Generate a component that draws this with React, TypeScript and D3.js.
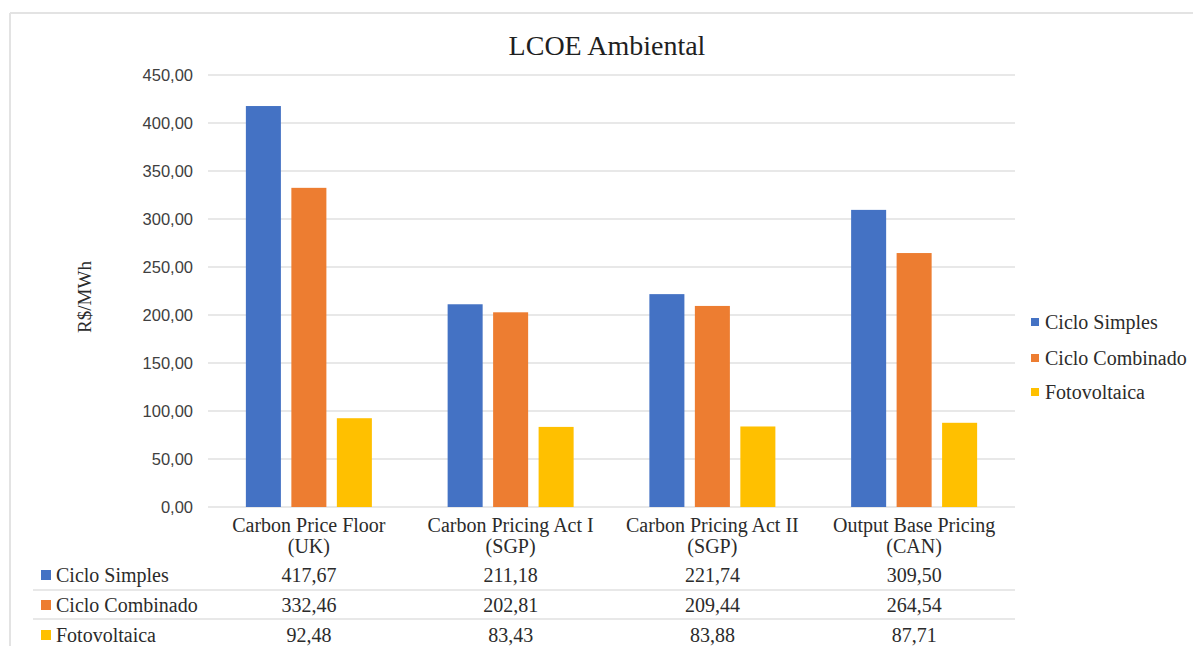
import React from "react";
import * as d3 from "d3";

const categories: string[][] = [
  ["Carbon Price Floor", "(UK)"],
  ["Carbon Pricing Act I", "(SGP)"],
  ["Carbon Pricing Act II", "(SGP)"],
  ["Output Base Pricing", "(CAN)"],
];
const seriesNames = ["Ciclo Simples", "Ciclo Combinado", "Fotovoltaica"];
const cicloSimples = [417.67, 211.18, 221.74, 309.5];
const cicloCombinado = [332.46, 202.81, 209.44, 264.54];
const fotovoltaica = [92.48, 83.43, 83.88, 87.71];
const seriesValues = [cicloSimples, cicloCombinado, fotovoltaica];
const seriesColors = ["#4472C4", "#ED7D31", "#FFC000"];
const yTicks = [0, 50, 100, 150, 200, 250, 300, 350, 400, 450];

const W = 1193;
const H = 646;
const SERIF = "'Liberation Serif', 'Times New Roman', serif";
const SANS = "'Liberation Sans', Arial, sans-serif";

const fmt = (v: number) => v.toFixed(2).replace(".", ",");

export default function App() {
  const plotLeft = 208;
  const plotRight = 1015;
  const y = d3.scaleLinear().domain([0, 450]).range([507, 75]);
  const x0 = d3
    .scaleBand<number>()
    .domain(categories.map((_, i) => i))
    .range([plotLeft, plotRight])
    .padding(0);
  const bw = x0.bandwidth();
  const groupW = 126;
  const x1 = d3
    .scaleBand<number>()
    .domain(seriesNames.map((_, i) => i))
    .range([(bw - groupW) / 2, (bw + groupW) / 2])
    .paddingInner(0.23)
    .paddingOuter(0);

  const rowY = [575, 605, 635];
  const rowLines = [590, 619];
  const legendY = [322, 358, 392];
  const textColor = "#2b2b2b";
  const fs = 20;

  return (
    <svg
      width={W}
      height={H}
      style={{ position: "absolute", left: 0, top: 0, background: "#fff" }}
    >
      {/* frame */}
      <line x1={10} y1={13} x2={W} y2={13} stroke="#e3e3e3" strokeWidth={2} />
      <line x1={10} y1={13} x2={10} y2={H} stroke="#e3e3e3" strokeWidth={2} />

      {/* title */}
      <text
        x={607}
        y={45}
        textAnchor="middle"
        dominantBaseline="central"
        fontFamily={SERIF}
        fontSize={28}
        fill="#1f1f1f"
      >
        LCOE Ambiental
      </text>

      {/* gridlines */}
      {yTicks.map((t) => (
        <g key={t}>
          <line
            x1={plotLeft}
            x2={plotRight}
            y1={y(t)}
            y2={y(t)}
            stroke="#e0e0e0"
            strokeWidth={1.5}
          />
          <text
            x={193}
            y={y(t)}
            textAnchor="end"
            dominantBaseline="central"
            fontFamily={SANS}
            fontSize={16.5}
            fill="#404040"
          >
            {fmt(t)}
          </text>
        </g>
      ))}

      {/* y axis title */}
      <text
        transform="translate(84,297) rotate(-90)"
        textAnchor="middle"
        dominantBaseline="central"
        fontFamily={SERIF}
        fontSize={19}
        fill={textColor}
      >
        R$/MWh
      </text>

      {/* bars */}
      {categories.map((_, ci) => (
        <g key={ci} transform={`translate(${x0(ci)},0)`}>
          {seriesValues.map((vals, si) => (
            <rect
              key={si}
              x={x1(si)}
              y={y(vals[ci])}
              width={x1.bandwidth()}
              height={y(0) - y(vals[ci])}
              fill={seriesColors[si]}
            />
          ))}
        </g>
      ))}

      {/* category labels */}
      {categories.map((lines, ci) => (
        <text
          key={ci}
          x={(x0(ci) as number) + bw / 2}
          fontFamily={SERIF}
          fontSize={fs}
          fill={textColor}
          textAnchor="middle"
        >
          {lines.map((l, li) => (
            <tspan
              key={li}
              x={(x0(ci) as number) + bw / 2}
              y={525 + li * 21}
              dominantBaseline="central"
            >
              {l}
            </tspan>
          ))}
        </text>
      ))}

      {/* data table */}
      {rowLines.map((ly) => (
        <line
          key={ly}
          x1={33}
          x2={plotRight}
          y1={ly}
          y2={ly}
          stroke="#e0e0e0"
          strokeWidth={1.5}
        />
      ))}
      {seriesNames.map((name, si) => (
        <g key={name}>
          <rect
            x={41}
            y={rowY[si] - 5}
            width={10}
            height={10}
            fill={seriesColors[si]}
          />
          <text
            x={56}
            y={rowY[si]}
            dominantBaseline="central"
            fontFamily={SERIF}
            fontSize={fs}
            fill={textColor}
          >
            {name}
          </text>
          {seriesValues[si].map((v, ci) => (
            <text
              key={ci}
              x={(x0(ci) as number) + bw / 2}
              y={rowY[si]}
              textAnchor="middle"
              dominantBaseline="central"
              fontFamily={SERIF}
              fontSize={fs}
              fill={textColor}
            >
              {fmt(v)}
            </text>
          ))}
        </g>
      ))}

      {/* legend */}
      {seriesNames.map((name, si) => (
        <g key={name}>
          <rect
            x={1031}
            y={legendY[si] - 4}
            width={8}
            height={8}
            fill={seriesColors[si]}
          />
          <text
            x={1045}
            y={legendY[si]}
            dominantBaseline="central"
            fontFamily={SERIF}
            fontSize={fs}
            fill={textColor}
          >
            {name}
          </text>
        </g>
      ))}
    </svg>
  );
}
